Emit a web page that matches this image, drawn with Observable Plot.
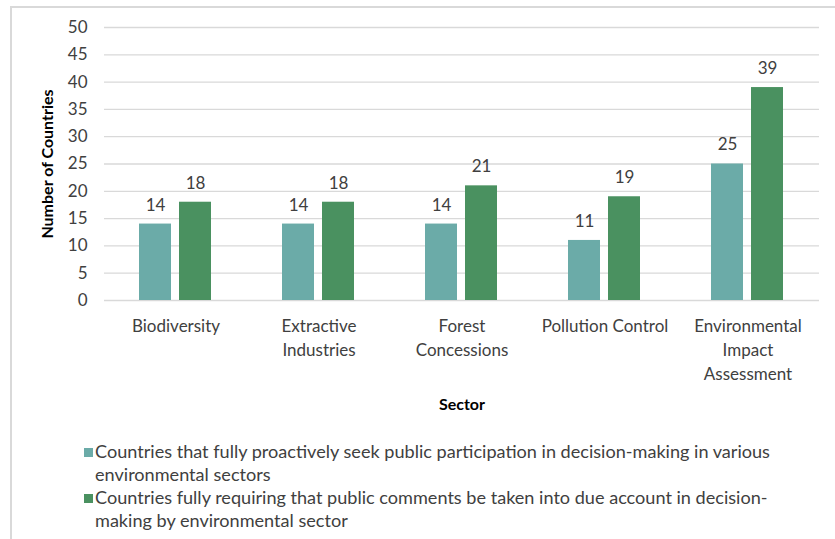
<!DOCTYPE html>
<html><head><meta charset="utf-8">
<script src="https://cdn.jsdelivr.net/npm/d3@7"></script>
<script src="https://cdn.jsdelivr.net/npm/@observablehq/plot@0.6"></script>
<style>
body{margin:0;background:#fff;font-family:Lato,"Open Sans",sans-serif;}
#wrap{position:relative;width:835px;height:539px;overflow:hidden;}
#frame{position:absolute;left:10px;top:6px;width:840px;height:560px;border:2px solid #d9d9d9;box-sizing:border-box;}
#chart{position:absolute;left:0;top:0;}
#legend{position:absolute;left:84px;top:440px;width:710px;color:#404040;font-size:18.1px;line-height:23px;}
.item{display:flex;align-items:flex-start;}
.sw{width:9px;height:9px;margin-top:8px;margin-right:2px;flex:none;}
</style></head>
<body><div id="wrap"><div id="frame"></div><div id="chart"></div><div id="legend"></div></div>
<script>
const sectors = ["Biodiversity","Extractive Industries","Forest Concessions","Pollution Control","Environmental Impact Assessment"];
const sectorLabels = ["Biodiversity","Extractive\nIndustries","Forest\nConcessions","Pollution Control","Environmental\nImpact\nAssessment"];
const seriesNames = ["Countries that fully proactively seek public participation in decision-making in various environmental sectors","Countries fully requiring that public comments be taken into due account in decision-making by environmental sector"];
const seekValues = [14,14,14,11,25];
const requireValues = [18,18,21,19,39];
const colors = ["#6BABA8","#4A9160"];
const yTicks = [0,5,10,15,20,25,30,35,40,45,50];

const data = [];
sectors.forEach((s,i)=>{
  data.push({sector:s, series:seriesNames[0], value:seekValues[i]});
  data.push({sector:s, series:seriesNames[1], value:requireValues[i]});
});
const labelOf = new Map(sectors.map((s,i)=>[s,sectorLabels[i]]));

const chart = Plot.plot({
  width: 835, height: 420,
  marginLeft: 102, marginRight: 15, marginTop: 27, marginBottom: 120,
  style:{fontFamily:"Lato, 'Open Sans', sans-serif", fontSize:"17px", color:"#404040", background:"transparent"},
  fx:{domain:sectors, padding:0, label:null},
  x:{domain:seriesNames, paddingInner:0.195, paddingOuter:0.85, axis:null},
  y:{domain:[0,50]},
  color:{domain:seriesNames, range:colors},
  marks:[
    Plot.ruleY(yTicks,{stroke:"#d9d9d9", strokeWidth:1.3}),
    Plot.barY(data,{fx:"sector", x:"series", y:"value", fill:"series"}),
    Plot.text(data,{fx:"sector", x:"series", y:"value", text:d=>String(d.value), dy:-19, fontSize:17, fill:"#404040"}),
    Plot.axisY({ticks:yTicks, tickSize:0, tickPadding:17, fontSize:17, label:"Number of Countries", labelAnchor:"center", labelArrow:"none", labelOffset:63}),
    Plot.axisFx({anchor:"bottom", tickSize:0, tickPadding:15, tickFormat:d=>labelOf.get(d), fontSize:17, label:"Sector", labelAnchor:"center", labelArrow:"none", labelOffset:109, lineHeight:1.4})
  ]
});
d3.select(chart).selectAll("[aria-label='y-axis label'] text, [aria-label='fx-axis label'] text, [aria-label='y-axis label'], [aria-label='fx-axis label']")
  .attr("font-weight","bold").attr("fill","#000").style("font-size","16px");
document.getElementById("chart").appendChild(chart);

const legend = d3.select("#legend");
seriesNames.forEach((n,i)=>{
  const it = legend.append("div").attr("class","item");
  it.append("div").attr("class","sw").style("background",colors[i]);
  it.append("div").text(n);
});
</script></body></html>
